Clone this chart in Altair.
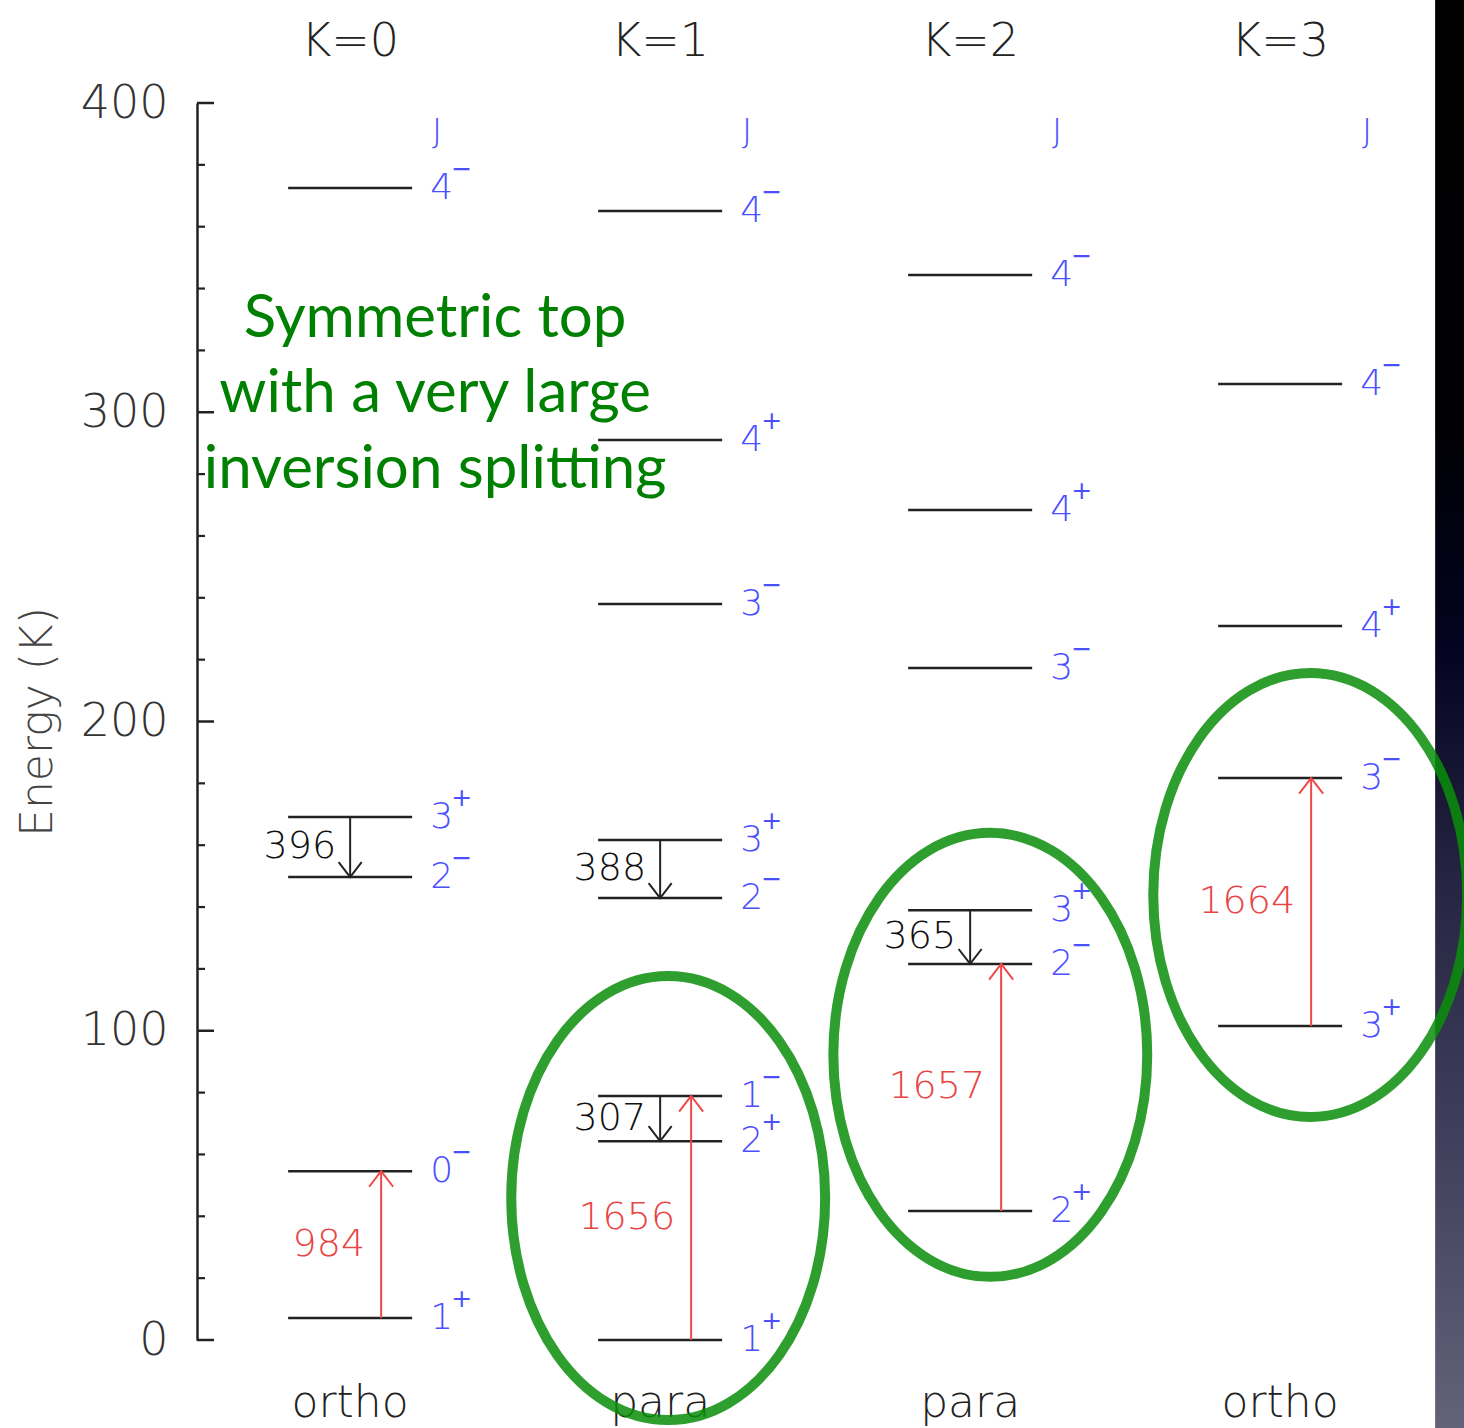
import altair as alt
import pandas as pd

# ---------------- data ----------------
level_col = [0, 0, 0, 0, 0,
             1, 1, 1, 1, 1, 1, 1, 1,
             2, 2, 2, 2, 2, 2,
             3, 3, 3, 3]
level_E = [372.5, 169.1, 149.7, 54.6, 7.1,
           365.1, 291.0, 238.0, 161.7, 142.9, 78.9, 64.3, 0.0,
           344.4, 268.4, 217.3, 139.0, 121.6, 41.7,
           309.1, 230.9, 181.7, 101.5]
level_J = ["4", "3", "2", "0", "1",
           "4", "4", "3", "3", "2", "1", "2", "1",
           "4", "4", "3", "3", "2", "2",
           "4", "4", "3", "3"]
level_parity = ["−", "+", "−", "−", "+",
                "−", "+", "−", "+", "−", "−", "+", "+",
                "−", "+", "−", "+", "−", "+",
                "−", "+", "−", "+"]

tr_col = [0, 0, 1, 1, 1, 2, 2, 3]
tr_lo = [149.7, 7.1, 142.9, 64.3, 0.0, 121.6, 41.7, 101.5]
tr_hi = [169.1, 54.6, 161.7, 78.9, 78.9, 139.0, 121.6, 181.7]
tr_dir = ["down", "up", "down", "down", "up", "down", "up", "up"]
tr_label = ["396", "984", "388", "307", "1656", "365", "1657", "1664"]

k_cols = [0, 1, 2, 3]
k_heads = ["K=0", "K=1", "K=2", "K=3"]
k_spin = ["ortho", "para", "para", "ortho"]

note_lines = ["Symmetric top", "with a very large", "inversion splitting"]
note_E = [324.3, 300.1, 275.5]
note_x = [0.274, 0.274, 0.274]

ell_x = [1.026, 2.065, 3.097]
ell_E = [45.9, 92.2, 143.9]

tick_vals = list(range(0, 401, 20))
y_labels = [0, 100, 200, 300, 400]

X_DOMAIN = [-0.494, 3.5931]
Y_DOMAIN = [0, 400]

# ---------------- frames ----------------
levels = pd.DataFrame(dict(col=level_col, E=level_E, J=level_J, p=level_parity))
levels["x1"] = levels["col"] - 0.2
levels["x2"] = levels["col"] + 0.2

tr = pd.DataFrame(dict(col=tr_col, lo=tr_lo, hi=tr_hi, d=tr_dir, lab=tr_label))
tr["E"] = tr["lo"]
tr["E2"] = tr["hi"]
tr["tip"] = [h if d == "up" else l for l, h, d in zip(tr_lo, tr_hi, tr_dir)]
tr["mid"] = (tr["lo"] + tr["hi"]) / 2

heads = pd.DataFrame(dict(col=k_cols, lab=k_heads, spin=k_spin))
heads["Etop"] = 415.2
heads["Ebot"] = -25.0
heads["EJ"] = 390.3

notes = pd.DataFrame(dict(x=note_x, E=note_E, t=note_lines))
ells = pd.DataFrame(dict(x=ell_x, E=ell_E))
ticks = pd.DataFrame(dict(E=tick_vals))
ticks["major"] = ticks["E"] % 100 == 0
strip = pd.DataFrame(dict(x=[3.5], x2=[3.62], E=[433.3], E2=[-29.0]))

# ---------------- scales / axes ----------------
xs = alt.Scale(domain=X_DOMAIN, nice=False, zero=False)
ys = alt.Scale(domain=Y_DOMAIN, nice=False, zero=False)
LABEL_FONT = "DejaVu Sans"
yaxis = alt.Axis(
    title="Energy  (K)", values=y_labels, ticks=False, grid=False,
    domainColor="#222", domainWidth=2.5,
    labelFont=LABEL_FONT, labelFontSize=46, labelColor="#333",
    labelFontWeight=300, labelPadding=29,
    titleFont=LABEL_FONT, titleFontSize=44, titleFontWeight=300,
    titleColor="#444", titlePadding=20,
)


def X(f):
    return alt.X(f, scale=xs, axis=None)


def Y(f):
    return alt.Y(f, scale=ys, axis=yaxis)


BLUE = "#4b50ff"
RED_LINE = "#f04848"
RED_TEXT = "#e84545"
BLACK = "#222"

# background strip
strip_layer = alt.Chart(strip).mark_rect(
    color=alt.Gradient(
        gradient="linear", x1=0, x2=0, y1=0, y2=1,
        stops=[
            alt.GradientStop(color="#000000", offset=0.0),
            alt.GradientStop(color="#000004", offset=0.3),
            alt.GradientStop(color="#03031f", offset=0.45),
            alt.GradientStop(color="#262642", offset=0.62),
            alt.GradientStop(color="#40405c", offset=0.8),
            alt.GradientStop(color="#62627a", offset=1.0),
        ],
    )
).encode(x=X("x:Q"), x2="x2:Q", y=Y("E:Q"), y2="E2:Q")

# axis ticks (pointing inward)
major_ticks = alt.Chart(ticks).transform_filter("datum.major").mark_rule(
    color=BLACK, strokeWidth=2.5
).encode(y=Y("E:Q"), x=alt.value(0), x2=alt.value(17))
minor_ticks = alt.Chart(ticks).transform_filter("!datum.major").mark_rule(
    color=BLACK, strokeWidth=2.2
).encode(y=Y("E:Q"), x=alt.value(0), x2=alt.value(8))

# energy levels
level_rules = alt.Chart(levels).mark_rule(color=BLACK, strokeWidth=2.5).encode(
    x=X("x1:Q"), x2="x2:Q", y=Y("E:Q")
)
level_txt = alt.Chart(levels).mark_text(
    align="left", baseline="middle", dx=80, fontSize=36, font=LABEL_FONT,
    fontWeight=300, color=BLUE
).encode(x=X("col:Q"), y=Y("E:Q"), text="J:N")
level_sup = alt.Chart(levels).mark_text(
    align="left", baseline="middle", dx=101, dy=-19, fontSize=25, font=LABEL_FONT,
    color=BLUE
).encode(x=X("col:Q"), y=Y("E:Q"), text="p:N")

j_txt = alt.Chart(heads).mark_text(
    align="center", baseline="middle", dx=87, fontSize=34, font=LABEL_FONT,
    fontWeight=300, color=BLUE
).encode(x=X("col:Q"), y=Y("EJ:Q"), text=alt.value("J"))

# inversion (black) transitions
down = alt.Chart(tr).transform_filter("datum.d == 'down'")
down_line = down.mark_rule(color=BLACK, strokeWidth=2).encode(
    x=X("col:Q"), y=Y("E:Q"), y2="E2:Q")
down_head = down.mark_point(
    shape="M-1,-1.3L0,0L1,-1.3", size=529, filled=False, strokeWidth=2,
    color=BLACK, opacity=1
).encode(x=X("col:Q"), y=Y("tip:Q"))
down_txt = down.mark_text(
    align="right", baseline="middle", dx=-14, fontSize=38, font=LABEL_FONT,
    fontWeight=300, color="#111"
).encode(x=X("col:Q"), y=Y("mid:Q"), text="lab:N")

# rotation-inversion (red) transitions
up = alt.Chart(tr).transform_filter("datum.d == 'up'")
up_line = up.mark_rule(color=RED_LINE, strokeWidth=2, xOffset=31).encode(
    x=X("col:Q"), y=Y("E:Q"), y2="E2:Q")
up_head = up.mark_point(
    shape="M-1,1.3L0,0L1,1.3", size=576, filled=False, strokeWidth=2,
    color=RED_LINE, opacity=1, xOffset=31
).encode(x=X("col:Q"), y=Y("tip:Q"))
up_txt = up.mark_text(
    align="right", baseline="middle", dx=31 - 16, fontSize=38, font=LABEL_FONT,
    fontWeight=300, color=RED_TEXT
).encode(x=X("col:Q"), y=Y("mid:Q"), text="lab:N")

# column headers / footers
head_txt = alt.Chart(heads).mark_text(
    align="center", baseline="alphabetic", fontSize=46, font=LABEL_FONT,
    fontWeight=300, color="#222"
).encode(x=X("col:Q"), y=Y("Etop:Q"), text="lab:N")
foot_txt = alt.Chart(heads).mark_text(
    align="center", baseline="alphabetic", fontSize=44, font=LABEL_FONT,
    fontWeight=300, color="#222"
).encode(x=X("col:Q"), y=Y("Ebot:Q"), text="spin:N")

# green annotation
note_txt = alt.Chart(notes).mark_text(
    align="center", baseline="alphabetic", fontSize=60, font="Lato",
    color="#008000"
).encode(x=X("x:Q"), y=Y("E:Q"), text="t:N")

ell_layer = alt.Chart(ells).mark_point(
    shape="M-0.707,0A0.707,1 0 1 0 0.707,0A0.707,1 0 1 0 -0.707,0Z",
    size=197136, filled=False, strokeWidth=10, color="#0a8f0a", opacity=0.85
).encode(x=X("x:Q"), y=Y("E:Q"))

chart = alt.layer(
    strip_layer, major_ticks, minor_ticks, level_rules, level_txt, level_sup, j_txt,
    down_line, down_head, down_txt, up_line, up_head, up_txt,
    head_txt, foot_txt, note_txt, ell_layer,
).properties(
    width=1267, height=1237,
    autosize=alt.AutoSizeParams(type="none"),
    padding={"left": 197, "top": 103, "right": 0, "bottom": 88},
    background="white",
).configure_view(strokeWidth=0)

chart.save("out.html", embed_options={"renderer": "svg", "actions": False})
